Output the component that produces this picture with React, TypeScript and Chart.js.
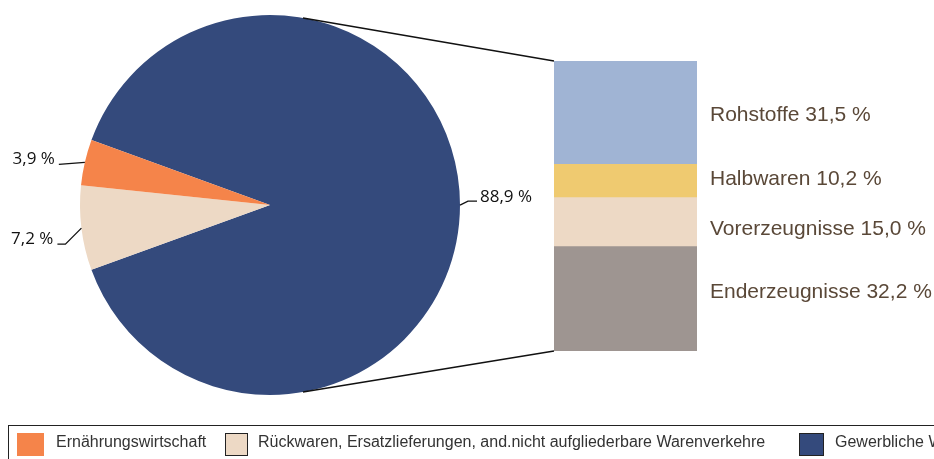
import React, { useEffect, useRef } from "react";
import { Chart, registerables } from "chart.js";

Chart.register(...registerables);

// ---- data ----
const pieLabels = ["Gewerbliche Wirtschaft", "Rückwaren, Ersatzlieferungen, and.nicht aufgliederbare Warenverkehre", "Ernährungswirtschaft"];
const pieValues = [88.9, 7.2, 3.9];
const pieValueText = ["88,9 %", "7,2 %", "3,9 %"];
const pieColors = ["#344a7c", "#edd9c5", "#f5844a"];

const barLabels = ["Rohstoffe", "Halbwaren", "Vorerzeugnisse", "Enderzeugnisse"];
const barValues = [31.5, 10.2, 15.0, 32.2];
const barValueText = ["31,5 %", "10,2 %", "15,0 %", "32,2 %"];
const barColors = ["#a0b4d4", "#efca70", "#edd9c5", "#9e9591"];

// legend order as shown
const legendOrder = [2, 1, 0];

// ---- style / layout ----
const W = 934;
const H = 459;
const pieFont = '17px "Open Sans", sans-serif';
const barFont = '21px "Liberation Sans", Arial, sans-serif';
const barLabelDy = [8.5, 4.5, 13.5, -0.5];
// leader line layouts per pie slice (relative to arc edge point)
const leaderStyle = [
  { pts: [[8, -4], [17, -4]], align: "left", tx: 3, ty: 1 },
  { pts: [[-16, 16], [-24, 16]], align: "right", tx: -4, ty: 0 },
  { pts: [[-26, 2]], align: "right", tx: -4, ty: 0 },
];

export default function App() {
  const pieRef = useRef<HTMLCanvasElement | null>(null);
  const barRef = useRef<HTMLCanvasElement | null>(null);

  useEffect(() => {
    if (!pieRef.current || !barRef.current) return;

    const pieLabelPlugin = {
      id: "pieLabels",
      afterDatasetsDraw(chart: any) {
        const ctx = chart.ctx;
        const meta = chart.getDatasetMeta(0);
        ctx.save();
        ctx.strokeStyle = "#111";
        ctx.lineWidth = 1.3;
        ctx.fillStyle = "#111";
        ctx.font = pieFont;
        meta.data.forEach((arc: any, i: number) => {
          const mid = (arc.startAngle + arc.endAngle) / 2;
          const px = arc.x + Math.cos(mid) * arc.outerRadius;
          const py = arc.y + Math.sin(mid) * arc.outerRadius;
          const st = leaderStyle[i];
          ctx.beginPath();
          ctx.moveTo(px, py);
          let ex = px, ey = py;
          st.pts.forEach(([dx, dy]) => {
            ex = px + dx;
            ey = py + dy;
            ctx.lineTo(ex, ey);
          });
          ctx.stroke();
          ctx.textAlign = st.align;
          ctx.textBaseline = "alphabetic";
          ctx.fillText(pieValueText[i], ex + st.tx, ey + st.ty);
        });
        ctx.restore();
      },
    };

    const pie = new Chart(pieRef.current, {
      type: "pie",
      data: {
        labels: pieLabels,
        datasets: [
          {
            data: pieValues,
            backgroundColor: pieColors,
            borderWidth: 0,
          },
        ],
      },
      options: {
        responsive: false,
        animation: false,
        rotation: -70,
        layout: { padding: { left: 80, top: 15, right: W - 460, bottom: H - 395 } },
        plugins: { legend: { display: false }, tooltip: { enabled: false } },
      },
      plugins: [pieLabelPlugin],
    });

    const total = barValues.reduce((a, b) => a + b, 0);

    const barLabelPlugin = {
      id: "barLabels",
      afterDatasetsDraw(chart: any) {
        const ctx = chart.ctx;
        ctx.save();
        ctx.font = barFont;
        ctx.fillStyle = "#5a4838";
        ctx.textAlign = "left";
        ctx.textBaseline = "alphabetic";
        const area = chart.chartArea;
        chart.data.datasets.forEach((ds: any, i: number) => {
          const el = chart.getDatasetMeta(i).data[0];
          const top = Math.min(el.y, el.base);
          const bot = Math.max(el.y, el.base);
          const cy = (top + bot) / 2;
          ctx.fillText(barLabels[i] + " " + barValueText[i], area.right + 13, cy + barLabelDy[i]);
        });
        // connector lines from pie to bar
        const arc: any = pie.getDatasetMeta(0).data[0];
        const a1 = (-80 * Math.PI) / 180;
        const a2 = (80 * Math.PI) / 180;
        const first = chart.getDatasetMeta(0).data[0];
        const last = chart.getDatasetMeta(chart.data.datasets.length - 1).data[0];
        const barLeft = first.x - first.width / 2;
        const barTop = Math.min(first.y, first.base);
        const barBot = Math.max(last.y, last.base);
        ctx.strokeStyle = "#111";
        ctx.lineWidth = 1.5;
        ctx.beginPath();
        ctx.moveTo(arc.x + Math.cos(a1) * arc.outerRadius, arc.y + Math.sin(a1) * arc.outerRadius);
        ctx.lineTo(barLeft, barTop);
        ctx.moveTo(arc.x + Math.cos(a2) * arc.outerRadius, arc.y + Math.sin(a2) * arc.outerRadius);
        ctx.lineTo(barLeft, barBot);
        ctx.stroke();
        ctx.restore();
      },
    };

    const bar = new Chart(barRef.current, {
      type: "bar",
      data: {
        labels: [""],
        datasets: barLabels.map((l, i) => ({
          label: l,
          data: [barValues[i]],
          backgroundColor: barColors[i],
          borderWidth: 0,
          barPercentage: 1,
          categoryPercentage: 1,
        })),
      },
      options: {
        responsive: false,
        animation: false,
        layout: { padding: { left: 554, top: 61, right: W - 697, bottom: H - 351 } },
        scales: {
          x: { stacked: true, display: false },
          y: { stacked: true, display: false, reverse: true, min: 0, max: total },
        },
        plugins: { legend: { display: false }, tooltip: { enabled: false } },
      },
      plugins: [barLabelPlugin],
    });

    return () => {
      bar.destroy();
      pie.destroy();
    };
  }, []);

  const legendText: React.CSSProperties = {
    position: "absolute",
    top: 433,
    height: 23,
    lineHeight: "23px",
    font: '16px "Liberation Sans", Arial, sans-serif',
    color: "#333",
    whiteSpace: "nowrap",
  };
  const swatchPos = [
    { left: 17, w: 27, border: false, text: 56 },
    { left: 225, w: 23, border: true, text: 258 },
    { left: 799, w: 25, border: true, text: 835 },
  ];

  return (
    <div style={{ position: "absolute", left: 0, top: 0, width: W, height: H, overflow: "hidden", background: "#fff" }}>
      <canvas ref={pieRef} width={W} height={H} style={{ position: "absolute", left: 0, top: 0 }} />
      <canvas ref={barRef} width={W} height={H} style={{ position: "absolute", left: 0, top: 0 }} />
      <div
        style={{
          position: "absolute",
          left: 8,
          top: 425,
          width: 1100,
          height: 80,
          border: "1.5px solid #222",
          boxSizing: "border-box",
        }}
      />
      {legendOrder.map((idx, k) => {
        const s = swatchPos[k];
        return (
          <React.Fragment key={k}>
            <div
              style={{
                position: "absolute",
                left: s.left,
                top: 433,
                width: s.w,
                height: 23,
                boxSizing: "border-box",
                background: pieColors[idx],
                border: s.border ? "1.5px solid #222" : "none",
              }}
            />
            <div style={{ ...legendText, left: s.text }}>{pieLabels[idx]}</div>
          </React.Fragment>
        );
      })}
    </div>
  );
}
